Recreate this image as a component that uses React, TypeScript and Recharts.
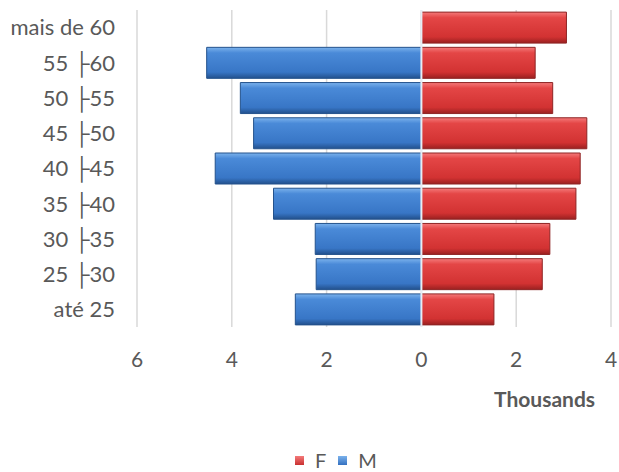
import React from 'react';
import { BarChart, Bar, XAxis, YAxis, CartesianGrid, ReferenceLine } from 'recharts';

const ageGroups = ['mais de 60', '55 ├60', '50 ├55', '45 ├50', '40 ├45', '35 ├40', '30 ├35', '25 ├30', 'até 25'];
// values in thousands
const femaleValues = [3.06, 2.4, 2.77, 3.49, 3.35, 3.26, 2.71, 2.55, 1.53];
const maleValues = [0, 4.53, 3.82, 3.54, 4.35, 3.12, 2.24, 2.22, 2.66];
const xTicks = [-6, -4, -2, 0, 2, 4];

const data = ageGroups.map((age, i) => ({
  age,
  F: femaleValues[i],
  M: -maleValues[i],
}));

const textColor = '#595959';
const font = 'Lato, "Liberation Sans", sans-serif';

export default function App() {
  return (
    <div style={{ position: 'absolute', left: 0, top: 0, width: 619, height: 472, fontFamily: font, overflow: 'hidden' }}>
      <BarChart
        width={619}
        height={472}
        data={data}
        layout="vertical"
        stackOffset="sign"
        barCategoryGap="6%"
        margin={{ top: 10, right: 8, bottom: 0, left: 0 }}
      >
        <defs>
          <linearGradient id="gradF" x1="0" y1="0" x2="0" y2="1">
            <stop offset="0%" stopColor="#f47a7a" />
            <stop offset="18%" stopColor="#e44646" />
            <stop offset="80%" stopColor="#d23232" />
            <stop offset="100%" stopColor="#9a2020" />
          </linearGradient>
          <linearGradient id="gradM" x1="0" y1="0" x2="0" y2="1">
            <stop offset="0%" stopColor="#7bb2ec" />
            <stop offset="18%" stopColor="#4a8ad8" />
            <stop offset="80%" stopColor="#3876c6" />
            <stop offset="100%" stopColor="#22508c" />
          </linearGradient>
        </defs>
        <CartesianGrid horizontal={false} stroke="#d9d9d9" strokeWidth={1.5} />
        <XAxis
          type="number"
          domain={[-6, 4]}
          ticks={xTicks}
          tickFormatter={(v: number) => String(Math.abs(v))}
          axisLine={false}
          tickLine={false}
          tickSize={0}
          tickMargin={25}
          height={145}
          tick={{ fill: textColor, fontSize: 21, fontFamily: font }}
        />
        <YAxis
          type="category"
          dataKey="age"
          width={137}
          axisLine={false}
          tickLine={false}
          tickSize={0}
          tickMargin={22}
          tick={{ fill: textColor, fontSize: 22, fontFamily: font }}
        />
        <Bar dataKey="F" stackId="a" fill="url(#gradF)" stroke="#8e2424" strokeWidth={1} isAnimationActive={false} />
        <Bar dataKey="M" stackId="a" fill="url(#gradM)" stroke="#24528c" strokeWidth={1} isAnimationActive={false} />
        <ReferenceLine x={0} stroke="#e6edf5" strokeWidth={2} />
      </BarChart>
      <div
        style={{
          position: 'absolute',
          left: 494,
          top: 386,
          fontSize: 21,
          lineHeight: '26px',
          fontWeight: 'bold',
          color: textColor,
        }}
      >
        Thousands
      </div>
      <div
        style={{
          position: 'absolute',
          left: 295,
          top: 449,
          display: 'flex',
          alignItems: 'center',
          fontSize: 20,
          lineHeight: '22px',
          color: textColor,
        }}
      >
        <span style={{ width: 9, height: 9, background: 'linear-gradient(#f47a7a, #c83030)', display: 'inline-block' }} />
        <span style={{ marginLeft: 11, marginRight: 12 }}>F</span>
        <span style={{ width: 9, height: 9, background: 'linear-gradient(#7bb2ec, #3470c0)', display: 'inline-block' }} />
        <span style={{ marginLeft: 11 }}>M</span>
      </div>
    </div>
  );
}
